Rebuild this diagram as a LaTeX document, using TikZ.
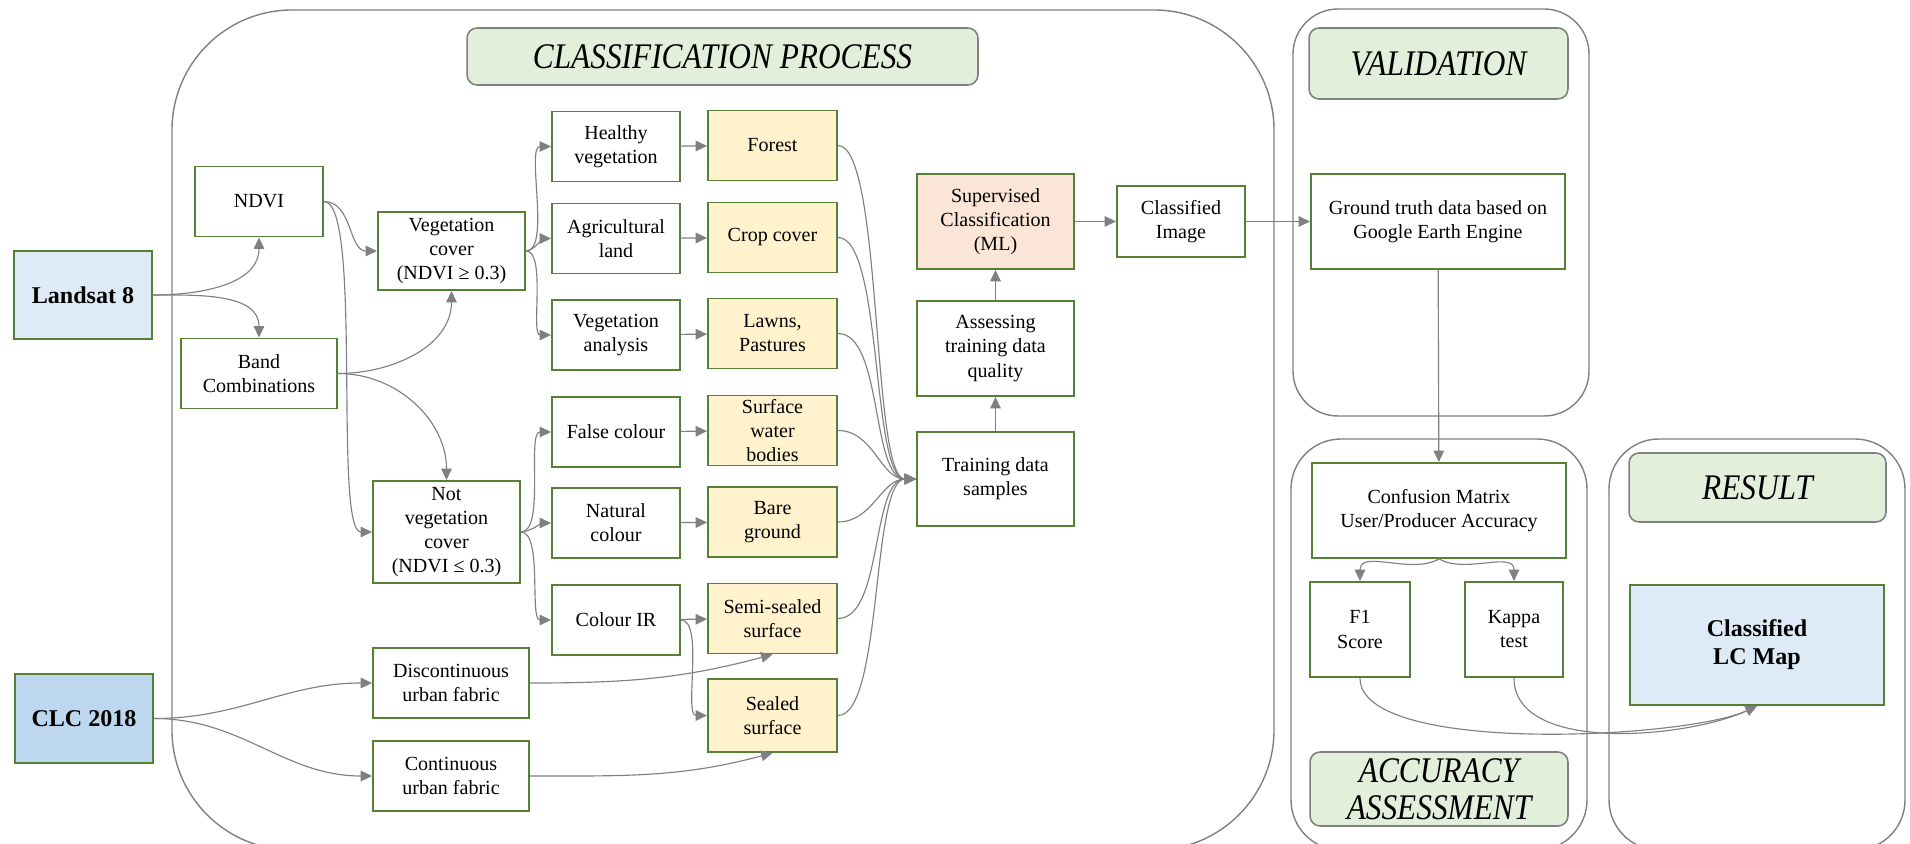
\documentclass[tikz,border=0pt]{standalone}
\usepackage{fontspec}
\setmainfont{Liberation Serif}
\newfontfamily\headfont[FakeStretch=0.87]{Liberation Serif}
\usepackage{tikz}
\usetikzlibrary{arrows.meta}
\definecolor{leaf}{HTML}{548235}
\definecolor{sky}{HTML}{DEEBF7}
\definecolor{deepsky}{HTML}{BDD7EE}
\definecolor{sand}{HTML}{FFF2CC}
\definecolor{peach}{HTML}{FBE5D6}
\definecolor{mint}{HTML}{E2EFDA}
\definecolor{wire}{HTML}{808080}

\begin{document}
\begin{tikzpicture}[x=0.02cm, y=-0.02cm,
    font=\fontsize{11.4}{13.7}\selectfont,
    box/.style={draw=leaf, line width=1.1pt, align=center, inner sep=1pt,
      minimum width=2.56cm, minimum height=1.4cm},
    cls/.style={box, fill=sand, minimum width=2.58cm},
    src/.style={box, font=\fontsize{13.7}{16}\selectfont\bfseries,
      minimum width=2.76cm, minimum height=1.77cm},
    head/.style={draw=wire, line width=0.9pt, fill=mint, rounded corners=0.2cm,
      align=center, inner sep=1pt, font=\headfont\itshape\fontsize{20.5}{21}\selectfont},
    frame/.style={draw=wire, line width=0.8pt},
    flow/.style={draw=wire, line width=0.65pt, -{Triangle[length=6.5pt,width=6pt]}},
    fan/.style={out=0, in=180, looseness=0.6},
    merge/.style={out=0, in=180, max distance=0.9cm}]
  \useasboundingbox (0,0) rectangle (1910,844);

  % frames
  \draw[frame, rounded corners=2.4cm] (172,10) rectangle (1274,850);
  \draw[frame, rounded corners=0.9cm] (1293,9) rectangle (1589,416);
  \draw[frame, rounded corners=1cm] (1291,439) rectangle (1587,850);
  \draw[frame, rounded corners=1cm] (1609,439) rectangle (1905,850);

  % headers
  \node (classhead) at (722.5,56.5) [head, minimum width=10.22cm, minimum height=1.14cm] {CLASSIFICATION PROCESS};
  \node (valhead) at (1438.5,63.5) [head, minimum width=5.18cm, minimum height=1.42cm] {VALIDATION};
  \node (acchead) at (1439,789) [head, minimum width=5.16cm, minimum height=1.48cm] {ACCURACY\\ASSESSMENT};
  \node (reshead) at (1757.5,487.5) [head, minimum width=5.14cm, minimum height=1.38cm] {RESULT};

  % sources
  \node (landsat) at (83,295) [src, fill=sky] {Landsat 8};
  \node (clc) at (84,718.5) [src, fill=deepsky] {CLC 2018};

  % first split
  \node (ndvi) at (259,201.5) [box] {NDVI};
  \node (band) at (259,373.5) [box, minimum width=3.12cm] {Band\\Combinations};
  \node (vegcov) at (451.5,251) [box, minimum width=2.94cm, minimum height=1.56cm] {Vegetation\\cover\\(NDVI ≥ 0.3)};
  \node (notveg) at (446.5,532) [box, minimum width=2.94cm, minimum height=2.04cm] {Not\\vegetation\\cover\\(NDVI ≤ 0.3)};
  \node (disc) at (451,683) [box, minimum width=3.12cm] {Discontinuous\\urban fabric};
  \node (cont) at (451,776) [box, minimum width=3.12cm] {Continuous\\urban fabric};

  % analysis column
  \node (healthy) at (616,146.5) [box] {Healthy\\vegetation};
  \node (agri) at (616,238.5) [box] {Agricultural\\land};
  \node (vegan) at (616,335) [box] {Vegetation\\analysis};
  \node (falsec) at (616,432) [box] {False colour};
  \node (natural) at (616,523) [box] {Natural\\colour};
  \node (colir) at (616,620) [box] {Colour IR};

  % land cover classes
  \node (forest) at (772.5,145.5) [cls] {Forest};
  \node (crop) at (772.5,237.5) [cls] {Crop cover};
  \node (lawns) at (772.5,333.5) [cls] {Lawns,\\Pastures};
  \node (water) at (772.5,430.5) [cls] {Surface\\water\\bodies};
  \node (bare) at (772.5,522) [cls] {Bare\\ground};
  \node (semi) at (772.5,618.5) [cls] {Semi-sealed\\surface};
  \node (sealed) at (772.5,715.5) [cls, minimum height=1.46cm] {Sealed\\surface};

  % training and classification
  \node (train) at (995.5,479) [box, minimum width=3.14cm, minimum height=1.88cm] {Training data\\samples};
  \node (assess) at (995.5,348.5) [box, minimum width=3.14cm, minimum height=1.9cm] {Assessing\\training data\\quality};
  \node (superv) at (995.5,221.5) [box, fill=peach, minimum width=3.14cm, minimum height=1.9cm] {Supervised\\Classification\\(ML)};
  \node (classimg) at (1181,221.5) [box, minimum height=1.42cm] {Classified\\Image};

  % validation and accuracy
  \node (ground) at (1438,221.5) [box, minimum width=5.08cm, minimum height=1.9cm] {Ground truth data based on\\Google Earth Engine};
  \node (confusion) at (1439,510.5) [box, minimum width=5.08cm, minimum height=1.9cm] {Confusion Matrix\\User/Producer Accuracy};
  \node (fone) at (1360,629.5) [box, minimum width=2cm, minimum height=1.9cm] {F1\\Score};
  \node (kappa) at (1514,629.5) [box, minimum width=1.96cm, minimum height=1.9cm] {Kappa\\test};
  \node (lcmap) at (1757,645) [src, fill=sky, minimum width=5.08cm, minimum height=2.4cm] {Classified\\LC Map};

  % landsat branches
  \draw[flow] (landsat.east) to[out=0,in=-90] (ndvi.south);
  \draw[flow] (landsat.east) to[out=0,in=90] (band.north);
  \draw[flow] (ndvi.east) to[out=0,in=180] (vegcov.west);
  \draw[flow] (ndvi.east) to[out=0,in=180,looseness=0.3] (notveg.west);
  \draw[flow] (band.east) to[out=0,in=-90] (vegcov.south);
  \draw[flow] (band.east) to[out=0,in=90] (notveg.north);

  % vegetation / non vegetation fans
  \foreach \t in {healthy,agri,vegan}
    \draw[flow,fan] (vegcov.east) to (\t.west);
  \foreach \t in {falsec,natural,colir}
    \draw[flow,fan] (notveg.east) to (\t.west);
  \foreach \a/\b in {healthy/forest,agri/crop,vegan/lawns,falsec/water,natural/bare,colir/semi}
    \draw[flow] (\a) -- (\b);
  \draw[flow,fan] (colir.east) to (sealed.west);

  % clc branches
  \draw[flow] (clc.east) to[out=0,in=180] (disc.west);
  \draw[flow] (clc.east) to[out=0,in=180] (cont.west);
  \draw[flow] (disc.east) to[out=0,in=-165] (semi.south);
  \draw[flow] (cont.east) to[out=0,in=-165] (sealed.south);

  % classes into training samples
  \foreach \s in {forest,crop,lawns,water,bare,semi,sealed}
    \draw[flow,merge] (\s.east) to (train.west);
  \draw[flow] (train) -- (assess);
  \draw[flow] (assess) -- (superv);
  \draw[flow] (superv) -- (classimg);
  \draw[flow] (classimg) -- (ground);

  % accuracy assessment
  \draw[flow] (ground) -- (confusion);
  \draw[flow] (confusion.south) to[out=-150,in=90] (fone.north);
  \draw[flow] (confusion.south) to[out=-30,in=90] (kappa.north);
  \draw[flow] (fone.south) to[out=-90,in=-155,looseness=0.5] (lcmap.south);
  \draw[flow] (kappa.south) to[out=-90,in=-155,looseness=0.8] (lcmap.south);
\end{tikzpicture}
\end{document}
